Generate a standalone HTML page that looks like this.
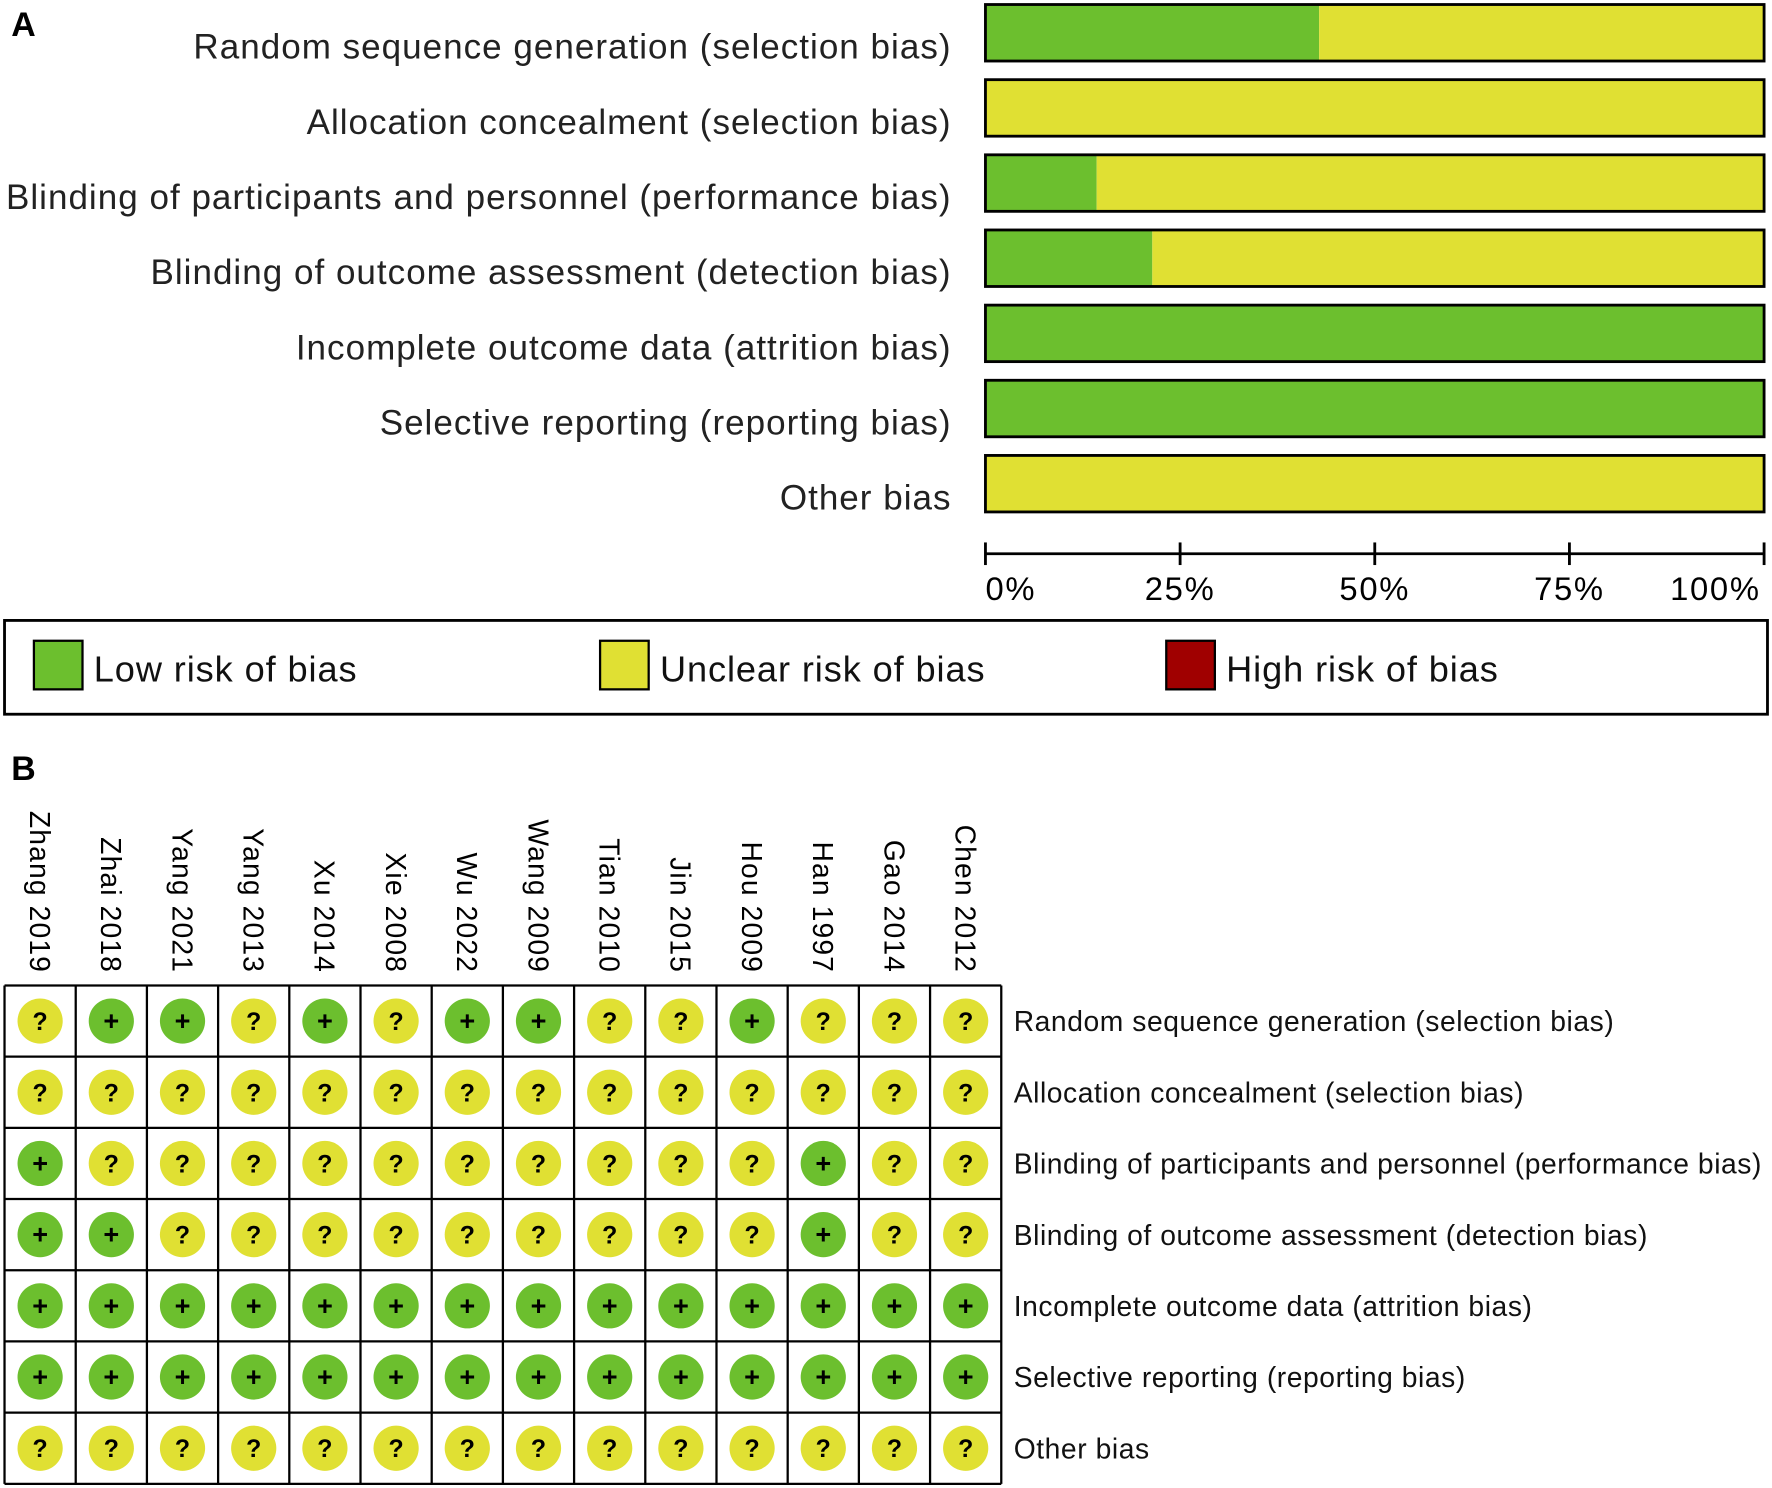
<!DOCTYPE html>
<html><head><meta charset="utf-8"><style>
html,body{margin:0;padding:0;background:#fff;}
svg{display:block;font-family:"Liberation Sans",sans-serif;}
</style></head><body>
<svg id="chart" width="1772" height="1488" viewBox="0 0 1568 1316.7" xmlns="http://www.w3.org/2000/svg"></svg>
<script>
const domains = ["Random sequence generation (selection bias)","Allocation concealment (selection bias)","Blinding of participants and personnel (performance bias)","Blinding of outcome assessment (detection bias)","Incomplete outcome data (attrition bias)","Selective reporting (reporting bias)","Other bias"];
const studies = ["Zhang 2019","Zhai 2018","Yang 2021","Yang 2013","Xu 2014","Xie 2008","Wu 2022","Wang 2009","Tian 2010","Jin 2015","Hou 2009","Han 1997","Gao 2014","Chen 2012"];
// L = low, U = unclear, H = high; one string per domain, one char per study
const judgements = [
 "ULLULULLUULUUU",
 "UUUUUUUUUUUUUU",
 "LUUUUUUUUUULUU",
 "LLUUUUUUUUULUU",
 "LLLLLLLLLLLLLL",
 "LLLLLLLLLLLLLL",
 "UUUUUUUUUUUUUU"
];
const tickLabels = ["0%","25%","50%","75%","100%"];
const tickValues = [0,25,50,75,100];
const legendLabels = ["Low risk of bias","Unclear risk of bias","High risk of bias"];

const COL = {L:"#6cbf2e",U:"#e0e033",H:"#a00000"};
const NS="http://www.w3.org/2000/svg";
const svg=document.getElementById('chart');
function el(t,a,p){const e=document.createElementNS(NS,t);for(const k in a)e.setAttribute(k,a[k]);(p||svg).appendChild(e);return e;}

// Panel A
let t=el('text',{x:10,y:32,'font-size':30,'font-weight':'bold'});t.textContent='A';


const x0=872,x1=1561;
const xs=v=>x0+(x1-x0)*v/100;
domains.forEach((d,i)=>{
  const y=4+i*66.5;
  const row=judgements[i];
  const n=row.length;
  const cnt={L:0,U:0,H:0};for(const c of row)cnt[c]++;
  let acc=0;
  ["L","U","H"].forEach(k=>{
    if(!cnt[k])return;
    const p=cnt[k]/n*100;
    const r=el('rect',{x:xs(acc),y:y,width:xs(acc+p)-xs(acc),height:50,fill:COL[k]});
    
    
    acc+=p;
  });
  const o=el('rect',{x:x0,y:y,width:x1-x0,height:50,fill:'none',stroke:'#000','stroke-width':2.5});
  
  
  const l=el('text',{x:842,y:y+48,'text-anchor':'end','font-size':31,fill:'#222','letter-spacing':0.9});
  l.textContent=d;
  
  
});
const ax=el('line',{x1:x0,y1:490,x2:x1,y2:490,stroke:'#000','stroke-width':2.5});


tickValues.forEach((v,i)=>{
  const tk=el('line',{x1:xs(v),y1:480,x2:xs(v),y2:500,stroke:'#000','stroke-width':2.5});
  
  
  const anchor=i==0?'start':(i==tickValues.length-1?'end':'middle');
  const tx=el('text',{x:i==tickValues.length-1?xs(v)-3:xs(v),y:531,'text-anchor':anchor,'font-size':29,'letter-spacing':1.5});
  tx.textContent=tickLabels[i];
  
  
});
const lb=el('rect',{x:4,y:549,width:1560,height:83,fill:'none',stroke:'#000','stroke-width':2.5});


["L","U","H"].forEach((k,i)=>{
  const bx=30+i*501;
  const s=el('rect',{x:bx,y:567,width:43,height:43,fill:COL[k],stroke:'#000','stroke-width':2});
  
  
  const tx=el('text',{x:bx+53,y:603,'font-size':32,fill:'#111','letter-spacing':0.8});
  tx.textContent=legendLabels[i];
  
  
});

// Panel B
t=el('text',{x:10,y:690,'font-size':30,'font-weight':'bold'});t.textContent='B';


const gx=4,gy=872,cw=63,ch=63;
studies.forEach((s,j)=>{
  const cx=gx+cw*(j+0.5);
  const tx=el('text',{x:0,y:0,'text-anchor':'end','font-size':25,'letter-spacing':1,transform:`translate(${cx-9},861) rotate(90)`});
  tx.textContent=s;
  
  
});
domains.forEach((d,i)=>{
  const cy=gy+ch*(i+0.5);
  for(let j=0;j<studies.length;j++){
    const k=judgements[i][j];
    const cx=gx+cw*(j+0.5);
    const c=el('circle',{cx:cx,cy:cy,r:20,fill:COL[k]});
    
    
    const g=el('text',{x:cx,y:cy+8,'text-anchor':'middle','font-size':k=='L'?24:22,'font-weight':'bold'});
    g.textContent=k=='L'?'+':(k=='U'?'?':'−');
    
    
  }
  const l=el('text',{x:897,y:cy+9,'font-size':25,fill:'#111','letter-spacing':0.5});
  l.textContent=d;
  
  
});
for(let j=0;j<=studies.length;j++){
  const ln=el('line',{x1:gx+cw*j,y1:gy,x2:gx+cw*j,y2:gy+ch*7,stroke:'#000','stroke-width':2});
  
  
}
for(let i=0;i<=domains.length;i++){
  const ln=el('line',{x1:gx,y1:gy+ch*i,x2:gx+cw*14,y2:gy+ch*i,stroke:'#000','stroke-width':2});
  
  
}
</script>
</body></html>
